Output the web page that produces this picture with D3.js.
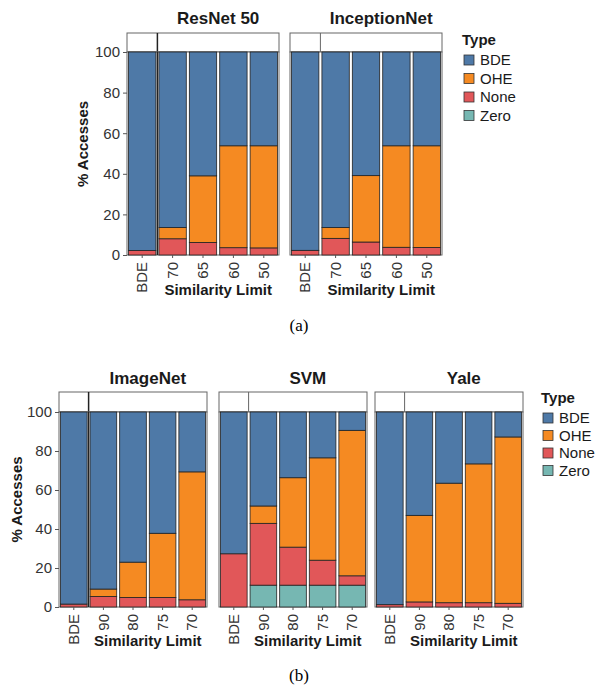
<!DOCTYPE html>
<html>
<head>
<meta charset="utf-8">
<script src="https://cdn.jsdelivr.net/npm/d3@7"></script>
<style>
  body { margin: 0; background: #fff; }
  text { font-family: "Liberation Sans", Arial, sans-serif; }
</style>
</head>
<body>
<script>
// stack keys, bottom to top
const TYPES = ["Zero", "None", "OHE", "BDE"];
const LEGEND_TYPES = ["BDE", "OHE", "None", "Zero"];
const TYPE_COLORS = ["#76B7B2", "#E15759", "#F58A22", "#4E79A7"];
const Y_TICKS = [0, 20, 40, 60, 80, 100];

// (a) categories and values (% accesses)
const catsA = ["BDE", "70", "65", "60", "50"];
const resnetZero = [0, 0, 0, 0, 0];
const resnetNone = [2.2, 8.0, 6.2, 3.6, 3.5];
const resnetOHE  = [0, 5.5, 32.8, 50.2, 50.3];
const resnetBDE  = [97.8, 86.5, 61.0, 46.2, 46.2];

const inceptionZero = [0, 0, 0, 0, 0];
const inceptionNone = [2.3, 8.2, 6.4, 3.8, 3.7];
const inceptionOHE  = [0, 5.3, 32.7, 50.0, 50.1];
const inceptionBDE  = [97.7, 86.5, 60.9, 46.2, 46.2];

// (b)
const catsB = ["BDE", "90", "80", "75", "70"];
const imagenetZero = [0, 0, 0, 0, 0];
const imagenetNone = [1.5, 5.4, 4.9, 4.9, 3.7];
const imagenetOHE  = [0, 3.8, 18.1, 32.9, 65.6];
const imagenetBDE  = [98.5, 90.8, 77.0, 62.2, 30.7];

const svmZero = [0, 11.2, 11.2, 11.2, 11.2];
const svmNone = [27.3, 31.7, 19.5, 12.8, 4.8];
const svmOHE  = [0, 8.9, 35.6, 52.5, 74.6];
const svmBDE  = [72.7, 48.2, 33.7, 23.5, 9.4];

const yaleZero = [0, 0, 0, 0, 0];
const yaleNone = [1.2, 2.6, 2.2, 2.2, 1.9];
const yaleOHE  = [0, 44.4, 61.3, 71.2, 85.3];
const yaleBDE  = [98.8, 53.0, 36.5, 26.6, 12.8];

function rows(cats, zero, none, ohe, bde) {
    return cats.map(function (c, i) {
        return {cat: c, Zero: zero[i], None: none[i], OHE: ohe[i], BDE: bde[i]};
    });
}

const figA = {
    cats: catsA,
    panels: [
        {name: "ResNet 50", x: 127, data: rows(catsA, resnetZero, resnetNone, resnetOHE, resnetBDE)},
        {name: "InceptionNet", x: 290, data: rows(catsA, inceptionZero, inceptionNone, inceptionOHE, inceptionBDE)}
    ],
    w: 152, stripTop: 33, top: 52, bottom: 255, titleY: 24, yLabelX: 83, xTitleY: 295,
    legendX: 464, legendY: 45, legendStep: 18.5, caption: "(a)", captionY: 331
};
const figB = {
    cats: catsB,
    panels: [
        {name: "ImageNet", x: 59, data: rows(catsB, imagenetZero, imagenetNone, imagenetOHE, imagenetBDE)},
        {name: "SVM", x: 219, data: rows(catsB, svmZero, svmNone, svmOHE, svmBDE)},
        {name: "Yale", x: 375, data: rows(catsB, yaleZero, yaleNone, yaleOHE, yaleBDE)}
    ],
    w: 148, stripTop: 392, top: 412, bottom: 607, titleY: 384, yLabelX: 17, xTitleY: 646,
    legendX: 543, legendY: 403, legendStep: 17.5, caption: "(b)", captionY: 681
};

const svg = d3.select("body").append("svg")
    .attr("width", 595)
    .attr("height", 685);

const color = d3.scaleOrdinal().domain(TYPES).range(TYPE_COLORS);
const stack = d3.stack().keys(TYPES);

function drawFigure(fig) {
    const yScale = d3.scaleLinear().domain([0, 100]).range([fig.bottom, fig.top]);

    fig.panels.forEach(function (p, pi) {
        const xScale = d3.scaleBand()
            .domain(fig.cats)
            .range([p.x, p.x + fig.w])
            .paddingInner(0.1)
            .paddingOuter(0.05);
        const split = p.x + xScale.step();
        const g = svg.append("g");

        // strip
        g.append("rect")
            .attr("x", p.x).attr("y", fig.stripTop)
            .attr("width", fig.w).attr("height", fig.top - fig.stripTop)
            .attr("fill", "#fff").attr("stroke", "#666").attr("stroke-width", 1);
        g.append("line")
            .attr("x1", split).attr("x2", split)
            .attr("y1", fig.stripTop).attr("y2", fig.top)
            .attr("stroke", pi === 0 ? "#222" : "#666").attr("stroke-width", pi === 0 ? 1.5 : 1);

        // panel border
        g.append("rect")
            .attr("x", p.x).attr("y", fig.top)
            .attr("width", fig.w).attr("height", fig.bottom - fig.top)
            .attr("fill", "#fff").attr("stroke", "#666").attr("stroke-width", 1);

        // bars
        const series = stack(p.data);
        series.forEach(function (s) {
            g.selectAll(null)
                .data(s.filter(function (d) { return d[1] - d[0] > 0; }))
                .enter()
                .append("rect")
                .attr("x", function (d) { return xScale(d.data.cat); })
                .attr("y", function (d) { return yScale(d[1]); })
                .attr("width", xScale.bandwidth())
                .attr("height", function (d) { return yScale(d[0]) - yScale(d[1]); })
                .attr("fill", color(s.key))
                .attr("stroke", "#222")
                .attr("stroke-width", 0.8);
        });

        if (pi === 0) {
            g.append("line")
                .attr("x1", split).attr("x2", split)
                .attr("y1", fig.top).attr("y2", fig.bottom)
                .attr("stroke", "#222").attr("stroke-width", 1.5);
        }

        // x axis
        const xAxis = g.append("g")
            .attr("transform", "translate(0," + fig.bottom + ")")
            .call(d3.axisBottom(xScale).tickSize(3).tickPadding(4));
        xAxis.select(".domain").remove();
        xAxis.selectAll(".tick line").attr("stroke", "#555");
        xAxis.selectAll(".tick text")
            .attr("transform", "rotate(-90)")
            .attr("text-anchor", "end")
            .attr("x", -7).attr("y", 0).attr("dy", "0.35em")
            .attr("font-size", "15px")
            .attr("font-family", "Liberation Sans, Arial, sans-serif")
            .attr("fill", "#333");

        // panel title and x title, centred on the similarity sub-panel
        const subCenter = (split + p.x + fig.w) / 2;
        g.append("text")
            .attr("x", subCenter).attr("y", fig.titleY)
            .attr("text-anchor", "middle")
            .attr("font-size", "17px").attr("font-weight", "bold")
            .attr("fill", "#1a1a1a")
            .text(p.name);
        g.append("text")
            .attr("x", subCenter).attr("y", fig.xTitleY)
            .attr("text-anchor", "middle")
            .attr("font-size", "15px").attr("font-weight", "bold")
            .attr("fill", "#1a1a1a")
            .text("Similarity Limit");

        // y axis on first panel only
        if (pi === 0) {
            const yAxis = g.append("g")
                .attr("transform", "translate(" + p.x + ",0)")
                .call(d3.axisLeft(yScale).tickValues(Y_TICKS).tickSize(4).tickPadding(3));
            yAxis.select(".domain").remove();
            yAxis.selectAll(".tick line").attr("stroke", "#555");
            yAxis.selectAll(".tick text")
                .attr("font-size", "15px")
                .attr("font-family", "Liberation Sans, Arial, sans-serif")
                .attr("fill", "#333");

            g.append("text")
                .attr("transform", "translate(" + fig.yLabelX + "," + ((fig.stripTop + fig.bottom) / 2) + ")rotate(-90)")
                .attr("text-anchor", "middle")
                .attr("dy", "0.35em")
                .attr("font-size", "15px").attr("font-weight", "bold")
                .attr("fill", "#1a1a1a")
                .text("% Accesses");
        }
    });

    // legend
    const lg = svg.append("g");
    lg.append("text")
        .attr("x", fig.legendX - 2).attr("y", fig.legendY)
        .attr("font-size", "15px").attr("font-weight", "bold")
        .attr("fill", "#1a1a1a")
        .text("Type");
    LEGEND_TYPES.forEach(function (t, i) {
        const cy = fig.legendY + 15 + i * fig.legendStep;
        lg.append("rect")
            .attr("x", fig.legendX).attr("y", cy - 5)
            .attr("width", 10).attr("height", 10)
            .attr("fill", color(t)).attr("stroke", "#333").attr("stroke-width", 0.8);
        lg.append("text")
            .attr("x", fig.legendX + 16).attr("y", cy)
            .attr("dy", "0.35em")
            .attr("font-size", "15px")
            .attr("fill", "#1a1a1a")
            .text(t);
    });

    // caption
    svg.append("text")
        .attr("x", 299).attr("y", fig.captionY)
        .attr("text-anchor", "middle")
        .style("font-family", "'Liberation Serif', 'Times New Roman', serif")
        .attr("font-size", "17px")
        .attr("fill", "#000")
        .text(fig.caption);
}

drawFigure(figA);
drawFigure(figB);
</script>
</body>
</html>
